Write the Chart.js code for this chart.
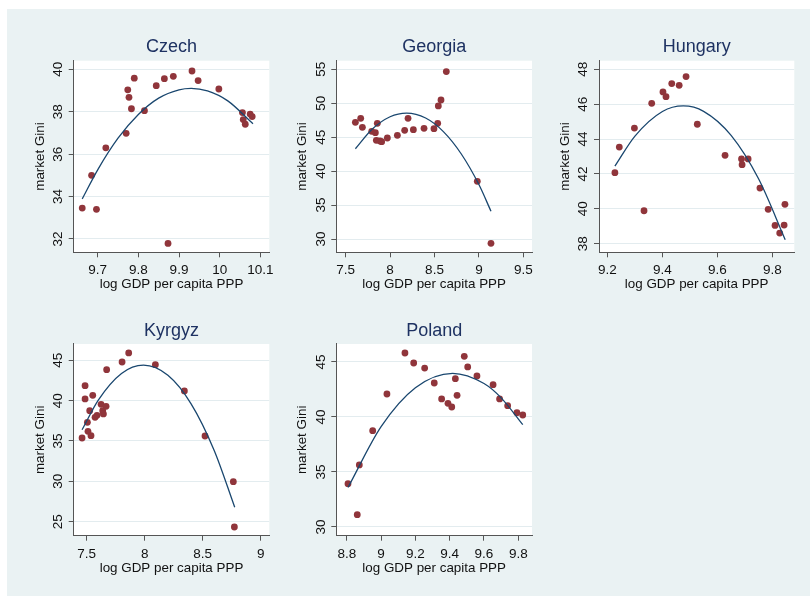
<!DOCTYPE html>
<html lang="en">
<head>
<meta charset="UTF-8">
<title>market Gini and log GDP per capita PPP</title>
<script src="https://cdn.jsdelivr.net/npm/chart.js"></script>
<style>
    body {
        margin: 0;
        width: 810px;
        height: 596px;
        position: relative;
        overflow: hidden;
        background: #ffffff;
        font-family: "Liberation Sans", Arial, sans-serif;
    }
    .region {
        position: absolute;
        left: 7px;
        top: 9px;
        width: 803px;
        height: 587px;
        background: #eaf2f3;
    }
    canvas {
        position: absolute;
    }
</style>
</head>
<body>
<div class="region"></div>
<canvas id="czech"></canvas>
<canvas id="georgia"></canvas>
<canvas id="hungary"></canvas>
<canvas id="kyrgyz"></canvas>
<canvas id="poland"></canvas>

<script>
// values
const czechGdp  = [9.662, 9.685, 9.697, 9.720, 9.770, 9.774, 9.777, 9.783, 9.790, 9.815, 9.844, 9.864, 9.873, 9.886, 9.932, 9.947, 9.998, 10.056, 10.058, 10.063, 10.075, 10.080];
const czechGini = [33.46, 35.00, 33.40, 36.30, 36.98, 39.03, 38.68, 38.14, 39.58, 38.05, 39.23, 39.56, 31.79, 39.67, 39.92, 39.47, 39.07, 37.96, 37.63, 37.41, 37.89, 37.77];
const czechFitGdp  = [9.662, 9.70, 9.75, 9.80, 9.85, 9.90, 9.93, 9.97, 10.02, 10.082];
const czechFitGini = [33.89, 35.26, 36.75, 37.87, 38.64, 39.03, 39.10, 38.98, 38.51, 37.43];
const czechXTicks = [9.7, 9.8, 9.9, 10, 10.1];
const czechYTicks = [32, 34, 36, 38, 40];

const georgiaGdp  = [7.609, 7.669, 7.688, 7.793, 7.834, 7.856, 7.845, 7.886, 7.905, 7.969, 8.082, 8.164, 8.202, 8.262, 8.382, 8.494, 8.536, 8.543, 8.573, 8.633, 8.982, 9.136];
const georgiaGini = [47.19, 47.78, 46.45, 45.86, 45.67, 47.04, 44.54, 44.44, 44.34, 44.88, 45.27, 46.01, 47.78, 46.11, 46.31, 46.26, 47.04, 49.60, 50.48, 54.66, 38.50, 29.36];
const georgiaFitGdp  = [7.609, 7.8, 8.0, 8.185, 8.4, 8.6, 8.8, 9.0, 9.136];
const georgiaFitGini = [43.29, 46.20, 48.01, 48.55, 47.82, 45.82, 42.56, 38.02, 34.09];
const georgiaXTicks = [7.5, 8, 8.5, 9, 9.5];
const georgiaYTicks = [30, 35, 40, 45, 50, 55];

const hungaryGdp  = [9.227, 9.243, 9.298, 9.333, 9.361, 9.402, 9.413, 9.434, 9.461, 9.486, 9.527, 9.628, 9.688, 9.690, 9.712, 9.755, 9.785, 9.810, 9.827, 9.843, 9.846];
const hungaryGini = [42.07, 43.54, 44.63, 39.89, 46.05, 46.70, 46.43, 47.18, 47.08, 47.58, 44.85, 43.07, 42.86, 42.53, 42.86, 41.19, 39.97, 39.05, 38.61, 39.07, 40.26];
const hungaryFitGdp  = [9.227, 9.3, 9.4, 9.476, 9.55, 9.65, 9.75, 9.847];
const hungaryFitGini = [42.45, 44.17, 45.58, 45.90, 45.59, 44.21, 41.72, 38.23];
const hungaryXTicks = [9.2, 9.4, 9.6, 9.8];
const hungaryYTicks = [38, 40, 42, 44, 46, 48];

const kyrgyzGdp  = [7.460, 7.486, 7.486, 7.506, 7.511, 7.526, 7.537, 7.552, 7.572, 7.589, 7.624, 7.638, 7.644, 7.667, 7.672, 7.805, 7.862, 8.092, 8.342, 8.520, 8.764, 8.773];
const kyrgyzGini = [35.37, 41.86, 40.21, 37.31, 36.20, 38.76, 35.66, 40.66, 37.93, 38.18, 39.55, 38.76, 38.35, 39.30, 43.84, 44.79, 45.91, 44.46, 41.20, 35.62, 29.96, 24.34];
const kyrgyzFitGdp  = [7.46, 7.6, 7.8, 7.99, 8.2, 8.4, 8.6, 8.776];
const kyrgyzFitGini = [36.39, 40.07, 43.37, 44.40, 43.14, 39.61, 33.80, 26.79];
const kyrgyzXTicks = [7.5, 8, 8.5, 9];
const kyrgyzYTicks = [25, 30, 35, 40, 45];

const polandGdp  = [8.807, 8.861, 8.873, 8.951, 9.034, 9.139, 9.190, 9.254, 9.310, 9.353, 9.390, 9.412, 9.433, 9.443, 9.485, 9.505, 9.559, 9.653, 9.691, 9.738, 9.792, 9.826];
const polandGini = [33.94, 31.12, 35.64, 38.76, 42.09, 45.82, 44.91, 44.45, 43.09, 41.64, 41.24, 40.91, 43.48, 41.97, 45.52, 44.55, 43.73, 42.94, 41.64, 41.03, 40.39, 40.18];
const polandFitGdp  = [8.807, 9.0, 9.2, 9.417, 9.6, 9.7, 9.826];
const polandFitGini = [33.59, 39.12, 42.66, 43.97, 43.04, 41.74, 39.30];
const polandXTicks = [8.8, 9, 9.2, 9.4, 9.6, 9.8];
const polandYTicks = [30, 35, 40, 45];

const xTitle = "log GDP per capita PPP";
const yTitle = "market Gini";

// plot region of each panel in page pixels [left, top, right, bottom] and axis ranges
const panels = [
    { id: "czech",   title: "Czech",   gdp: czechGdp,   gini: czechGini,   fitGdp: czechFitGdp,   fitGini: czechFitGini,   xTicks: czechXTicks,   yTicks: czechYTicks,
      rect: [73.7, 60.7, 269.3, 252.3], xRange: [9.6410, 10.1221], yRange: [31.373, 40.405] },
    { id: "georgia", title: "Georgia", gdp: georgiaGdp, gini: georgiaGini, fitGdp: georgiaFitGdp, fitGini: georgiaFitGini, xTicks: georgiaXTicks, yTicks: georgiaYTicks,
      rect: [336.3, 60.7, 532, 252.3], xRange: [7.3941, 9.598], yRange: [28.041, 56.267] },
    { id: "hungary", title: "Hungary", gdp: hungaryGdp, gini: hungaryGini, fitGdp: hungaryFitGdp, fitGini: hungaryFitGini, xTicks: hungaryXTicks, yTicks: hungaryYTicks,
      rect: [599, 60.7, 794.3, 252.3], xRange: [9.1691, 9.8801], yRange: [37.507, 48.493] },
    { id: "kyrgyz",  title: "Kyrgyz",  gdp: kyrgyzGdp,  gini: kyrgyzGini,  fitGdp: kyrgyzFitGdp,  fitGini: kyrgyzFitGini,  xTicks: kyrgyzXTicks,  yTicks: kyrgyzYTicks,
      rect: [73.7, 344, 269.3, 535.7], xRange: [7.3879, 9.0741], yRange: [23.265, 47.02] },
    { id: "poland",  title: "Poland",  gdp: polandGdp,  gini: polandGini,  fitGdp: polandFitGdp,  fitGini: polandFitGini,  xTicks: polandXTicks,  yTicks: polandYTicks,
      rect: [336.3, 344, 532, 535.7], xRange: [8.7388, 9.8799], yRange: [29.209, 46.636] }
];

const dotColor = "#90353b";
const lineColor = "#1a476f";
const titleColor = "#1e3262";
const axisColor = "#555555";
const gridColor = "#e3ecef";
const textColor = "#111111";
const fontFamily = "'Liberation Sans', Arial, sans-serif";

const whitePlot = {
    id: "whitePlot",
    beforeDraw(chart) {
        const a = chart.chartArea;
        chart.ctx.save();
        chart.ctx.fillStyle = "#ffffff";
        chart.ctx.fillRect(a.left, a.top, a.right - a.left, a.bottom - a.top);
        chart.ctx.restore();
    }
};

const fmt = v => String(Math.round(v * 100) / 100);

function drawPanel(p) {
    const [L, T, R, B] = p.rect;
    const left = Math.floor(L) - 60;
    const top = Math.floor(T) - 26;
    const width = Math.ceil(R) + 22 - left;
    const height = Math.ceil(B) + 48 - top;
    const yWidth = L - left;
    const xHeight = top + height - B;
    const titleTop = (T - 13.2) - top - 10.8;
    const titleBottom = (T - top) - 21.6 - titleTop;

    const cv = document.getElementById(p.id);
    cv.width = width;
    cv.height = height;
    cv.style.left = left + "px";
    cv.style.top = top + "px";
    cv.style.width = width + "px";
    cv.style.height = height + "px";

    new Chart(cv, {
        type: "scatter",
        data: {
            datasets: [
                {
                    data: p.fitGdp.map((x, i) => ({ x: x, y: p.fitGini[i] })),
                    showLine: true,
                    borderColor: lineColor,
                    borderWidth: 1.3,
                    pointRadius: 0,
                    cubicInterpolationMode: "monotone"
                },
                {
                    data: p.gdp.map((x, i) => ({ x: x, y: p.gini[i] })),
                    backgroundColor: dotColor,
                    borderWidth: 0,
                    pointRadius: 3.4
                }
            ]
        },
        options: {
            responsive: false,
            animation: false,
            devicePixelRatio: 1,
            layout: { padding: { left: 0, top: 0, bottom: 0, right: left + width - R } },
            plugins: {
                legend: { display: false },
                tooltip: { enabled: false },
                title: {
                    display: true,
                    fullSize: false,
                    text: p.title,
                    color: titleColor,
                    font: { family: fontFamily, size: 18, weight: "normal" },
                    padding: { top: titleTop, bottom: titleBottom }
                }
            },
            scales: {
                x: {
                    type: "linear",
                    min: p.xRange[0],
                    max: p.xRange[1],
                    afterFit: s => { s.height = xHeight; },
                    afterBuildTicks: s => { s.ticks = p.xTicks.map(v => ({ value: v })); },
                    grid: { drawOnChartArea: false, drawTicks: true, tickLength: 5, tickColor: axisColor },
                    border: { display: true, color: axisColor, width: 1 },
                    ticks: { color: textColor, font: { family: fontFamily, size: 13.5 }, padding: 5, maxRotation: 0, autoSkip: false, callback: fmt },
                    title: { display: true, text: xTitle, color: textColor, font: { family: fontFamily, size: 13.4 }, padding: { top: 0, bottom: xHeight - 40.3 } }
                },
                y: {
                    type: "linear",
                    min: p.yRange[0],
                    max: p.yRange[1],
                    afterFit: s => { s.width = yWidth; },
                    afterBuildTicks: s => { s.ticks = p.yTicks.map(v => ({ value: v })); },
                    grid: { color: gridColor, lineWidth: 1, drawTicks: true, tickLength: 5, tickColor: axisColor },
                    border: { display: true, color: axisColor, width: 1 },
                    ticks: { color: textColor, font: { family: fontFamily, size: 13.5 }, padding: 2.9, minRotation: 90, maxRotation: 90, crossAlign: "center", autoSkip: false, callback: fmt },
                    title: { display: true, text: yTitle, color: textColor, font: { family: fontFamily, size: 13.4 }, padding: { top: (L - 33.7) - left - 8.04, bottom: 0 } }
                }
            }
        },
        plugins: [whitePlot]
    });
}

panels.forEach(drawPanel);
</script>
</body>
</html>
